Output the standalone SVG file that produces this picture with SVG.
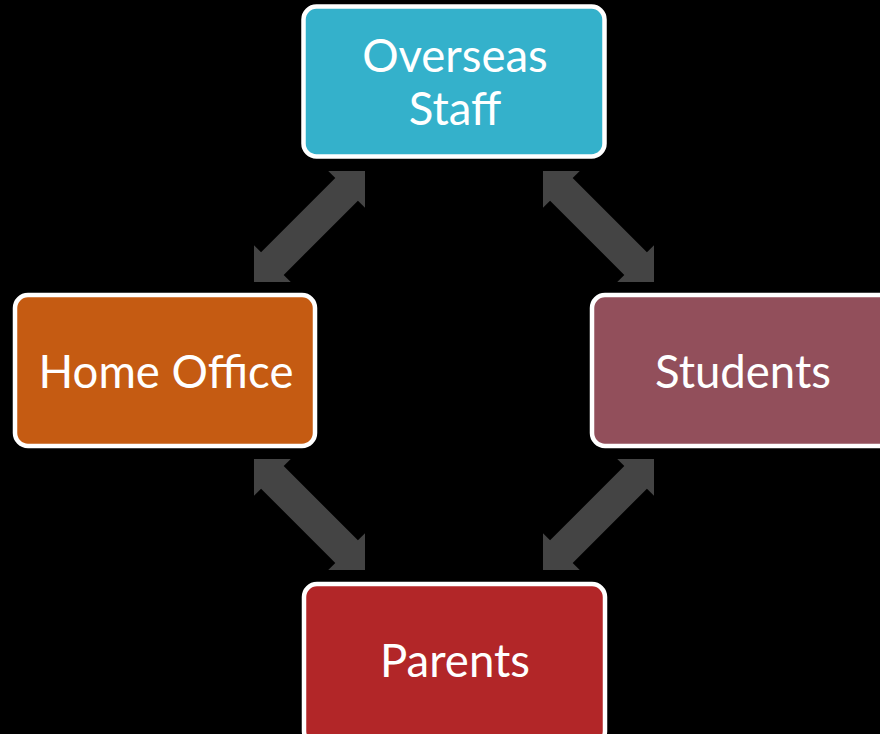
<svg xmlns="http://www.w3.org/2000/svg" xmlns:xlink="http://www.w3.org/1999/xlink" width="880" height="734" viewBox="0 0 880 734">
<defs>
<style>
.box{stroke:#fff;stroke-width:4.5}
.lbl{font-family:Lato,"Open Sans","Liberation Sans",sans-serif;font-size:45.5px;fill:#fff;text-anchor:middle}
.arr{fill:#444444}
</style>
<polygon id="dbl" points="-78.5,0 -52.5,-26 -52.5,-16 52.5,-16 52.5,-26 78.5,0 52.5,26 52.5,16 -52.5,16 -52.5,26"/>
</defs>
<rect width="880" height="734" fill="#000"/>
<g id="connectors" class="arr">
<use xlink:href="#dbl" transform="translate(309.5,226.5) rotate(-45)"/>
<use xlink:href="#dbl" transform="translate(598.5,226.5) rotate(45)"/>
<use xlink:href="#dbl" transform="translate(309.5,514.5) rotate(45)"/>
<use xlink:href="#dbl" transform="translate(598.5,514.5) rotate(-45)"/>
</g>
<g id="overseas">
<rect class="box" x="303.5" y="6.5" width="301" height="150" rx="13" fill="#34B1CB"/>
<text class="lbl" x="455" y="72">Overseas</text>
<text class="lbl" x="455" y="125">Staff</text>
</g>
<g id="homeoffice">
<rect class="box" x="15" y="295" width="300" height="151" rx="13" fill="#C55B12"/>
<text class="lbl" x="166" y="388">Home Office</text>
</g>
<g id="students">
<rect class="box" x="592" y="295" width="300" height="151" rx="13" fill="#924F5B"/>
<text class="lbl" x="743" y="388">Students</text>
</g>
<g id="parents">
<rect class="box" x="304" y="584" width="301" height="160" rx="13" fill="#B22628"/>
<text class="lbl" x="455" y="677">Parents</text>
</g>
</svg>
